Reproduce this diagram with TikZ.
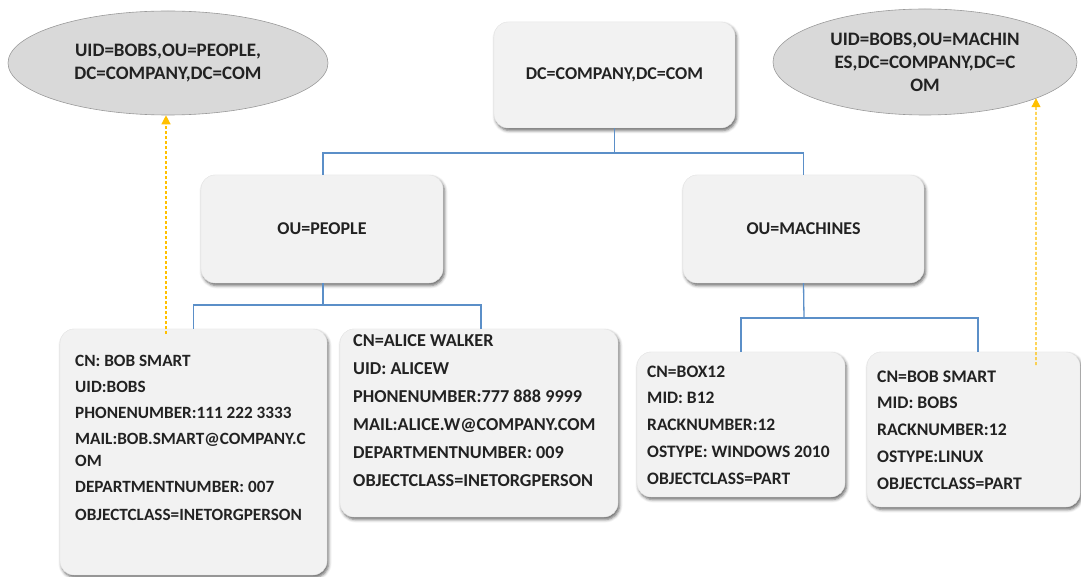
\documentclass[tikz,border=0pt]{standalone}
\usepackage{fontspec}
\setmainfont{Carlito}
\usetikzlibrary{shapes.geometric,shadows.blur,intersections,arrows.meta}

\definecolor{boxfill}{HTML}{F2F2F2}
\definecolor{ovalfill}{HTML}{D9D9D9}
\definecolor{ovaledge}{HTML}{9A9A9A}
\definecolor{treeblue}{HTML}{5B8FC8}
\definecolor{linkorange}{HTML}{FFC000}
\definecolor{ink}{HTML}{222222}

\begin{document}
\begin{tikzpicture}[x=1pt,y=-1pt,
  card/.style={rectangle, rounded corners=14pt, fill=boxfill, draw=gray!22,
    line width=0.4pt, inner sep=0pt,
    blur shadow={shadow xshift=1.5pt, shadow yshift=-2.5pt,
      shadow blur radius=3pt, shadow opacity=60}},
  cardlabel/.style={text=ink, font=\fontsize{18}{22}\selectfont\bfseries},
  entry/.style={text=ink, align=left, inner sep=0pt, anchor=north west},
  oval/.style={ellipse, fill=ovalfill, draw=ovaledge, line width=0.6pt,
    inner sep=0pt, align=center, text=ink,
    font=\fontsize{19}{23}\selectfont\bfseries},
  tree/.style={draw=treeblue, line width=1.3pt},
  link/.style={draw=linkorange, line width=1.2pt, dash pattern=on 3pt off 2pt,
    -{Triangle[width=9pt,length=9pt,fill=linkorange]}}
]
\useasboundingbox (0,0) rectangle (1081,577);

% distinguished-name ovals
\node[oval, minimum width=320pt, minimum height=104pt] (dnPeople) at (168,63)
  {UID=BOBS,OU=PEOPLE,\\DC=COMPANY,DC=COM};
\node[oval, minimum width=304pt, minimum height=106pt, name path=dnMachPath]
  (dnMach) at (925,62)
  {UID=BOBS,OU=MACHIN\\ES,DC=COMPANY,DC=C\\OM};

% directory tree boxes
\node[card, minimum width=241pt, minimum height=106pt] (root) at (614.5,75) {};
\node[cardlabel] at (root.center) {DC=COMPANY,DC=COM};

\node[card, minimum width=242pt, minimum height=108pt] (people) at (322,229) {};
\node[cardlabel] at (people.center) {OU=PEOPLE};

\node[card, minimum width=241pt, minimum height=108pt] (machines) at (803.5,229) {};
\node[cardlabel] at (machines.center) {OU=MACHINES};

\node[card, minimum width=267pt, minimum height=246pt] (bob) at (193.5,452) {};
\node[entry, font=\fontsize{17.2}{26}\selectfont\bfseries] (bobtxt) at (75,355.5)
  {CN: BOB SMART\\
   UID:BOBS\\
   PHONENUMBER:111 222 3333\\
   MAIL:BOB.SMART@COMPANY.C\\[-4pt]
   OM\\
   DEPARTMENTNUMBER: 007\\[2pt]
   OBJECTCLASS=INETORGPERSON};

\node[card, minimum width=278pt, minimum height=188pt] (alice) at (479,423) {};
\node[entry, font=\fontsize{18.2}{28}\selectfont\bfseries] (alicetxt) at (353,334.1)
  {CN=ALICE WALKER\\
   UID: ALICEW\\
   PHONENUMBER:777 888 9999\\
   MAIL:ALICE.W@COMPANY.COM\\
   DEPARTMENTNUMBER: 009\\
   OBJECTCLASS=INETORGPERSON};

\node[card, minimum width=208pt, minimum height=145pt] (box) at (741,424.5) {};
\node[entry, font=\fontsize{17.5}{26.8}\selectfont\bfseries] (boxtxt) at (647,365.4)
  {CN=BOX12\\
   MID: B12\\
   RACKNUMBER:12\\
   OSTYPE: WINDOWS 2010\\
   OBJECTCLASS=PART};

\node[card, minimum width=213pt, minimum height=155pt] (host) at (973.5,429.5) {};
\node[entry, font=\fontsize{17.7}{26.8}\selectfont\bfseries] (hosttxt) at (877,370.3)
  {CN=BOB SMART\\
   MID: BOBS\\
   RACKNUMBER:12\\
   OSTYPE:LINUX\\
   OBJECTCLASS=PART};

% tree connectors
\coordinate (rootFork) at (614.5,153);
\coordinate (peopleFork) at (323,305);
\coordinate (machFork) at (804,318);
\draw[tree] (root.south) -- (rootFork);
\draw[tree] (rootFork) -| ([xshift=1pt]people.north);
\draw[tree] (rootFork) -| (machines.north);
\draw[tree] ([xshift=1pt]people.south) -- (peopleFork);
\draw[tree] (peopleFork) -| (bob.north);
\draw[tree] (peopleFork) -| ([xshift=2pt]alice.north);
\draw[tree] (machines.south) -- (machFork);
\draw[tree] (machFork) -| (box.north);
\draw[tree] (machFork) -| ([xshift=4.5pt]host.north);

% entries pointing to their distinguished names
\coordinate (bobFoot) at (166,334);
\draw[link] (bobFoot) -- (bobFoot |- dnPeople.south);

\coordinate (hostFoot) at (1036,365);
\path[name path=hostRise] (hostFoot) -- (hostFoot |- dnMach.center);
\path[name intersections={of=dnMachPath and hostRise, by=hostTip}];
\draw[link] (hostFoot) -- (hostTip);
\end{tikzpicture}
\end{document}
